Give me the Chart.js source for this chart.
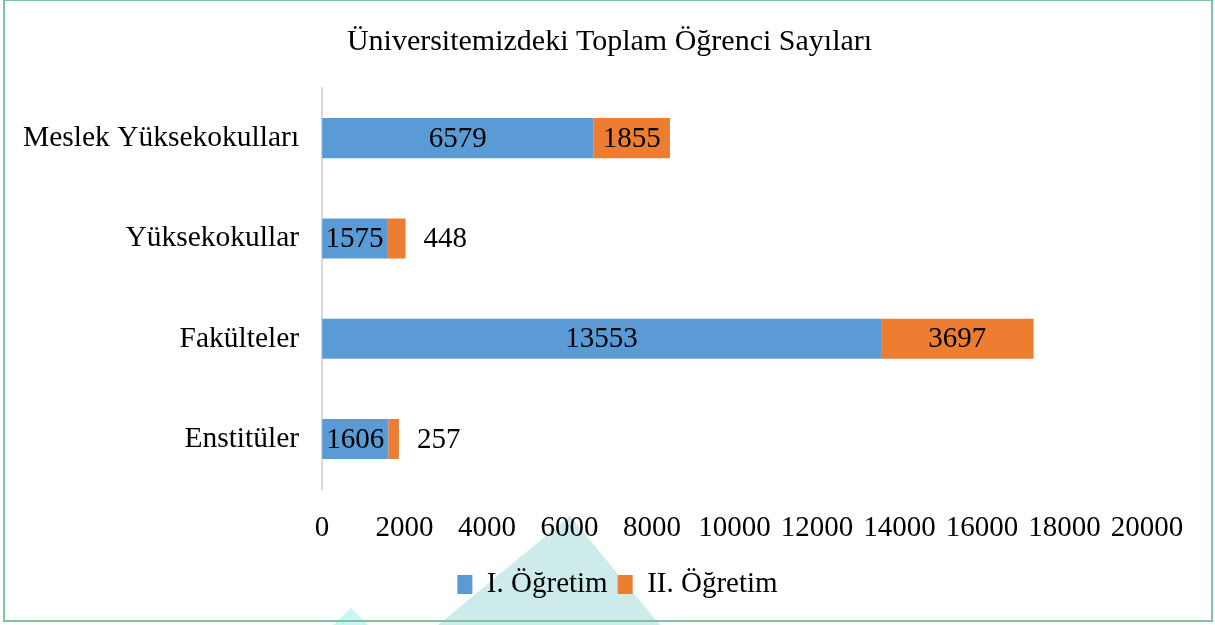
<!DOCTYPE html>
<html>
<head>
<meta charset="utf-8">
<script src="https://cdn.jsdelivr.net/npm/chart.js@4"></script>
<style>
  html, body { margin: 0; padding: 0; background: #fff; }
  #wrap { width: 1215px; height: 625px; }
</style>
</head>
<body>
<div id="wrap"><canvas id="ogrenci"></canvas></div>
<script>
const categories = ['Meslek Yüksekokulları', 'Yüksekokullar', 'Fakülteler', 'Enstitüler'];
const birinciOgretim = [6579, 1575, 13553, 1606];
const ikinciOgretim = [1855, 448, 3697, 257];
const seriesNames = ['I. Öğretim', 'II. Öğretim'];
const xMax = 20000;
const xStep = 2000;

const FONT = "'Liberation Serif', 'Times New Roman', serif";

// page frame and the pale watermark triangles behind the chart
const backdrop = {
  id: 'backdrop',
  afterLayout(chart) {
    // title and legend sit a little right of centre in the original
    chart.titleBlock.left += 36;
    chart.titleBlock.right += 36;
    chart.legend.left += 44;
    chart.legend.right += 44;
  },
  beforeDraw(chart) {
    const ctx = chart.ctx;
    ctx.save();
    ctx.fillStyle = '#cdebea';
    ctx.beginPath();
    ctx.moveTo(570, 516);
    ctx.lineTo(438, 625);
    ctx.lineTo(660, 625);
    ctx.closePath();
    ctx.fill();
    ctx.fillStyle = '#c9f5f4';
    ctx.beginPath();
    ctx.moveTo(351, 608);
    ctx.lineTo(333, 625);
    ctx.lineTo(368, 625);
    ctx.closePath();
    ctx.fill();
    ctx.strokeStyle = '#7cc3a0';
    ctx.lineWidth = 2;
    ctx.strokeRect(4, 0, 1208, 621);
    ctx.restore();
  }
};

// value labels: centred in the segment, or just right of the bar when it does not fit
const barLabels = {
  id: 'barLabels',
  afterDatasetsDraw(chart) {
    const ctx = chart.ctx;
    ctx.save();
    ctx.font = '29px ' + FONT;
    ctx.fillStyle = '#000';
    ctx.textBaseline = 'middle';
    chart.data.datasets.forEach((ds, di) => {
      chart.getDatasetMeta(di).data.forEach((bar, i) => {
        const txt = String(ds.data[i]);
        const w = ctx.measureText(txt).width;
        const segW = Math.abs(bar.x - bar.base);
        if (segW >= w + 4) {
          ctx.textAlign = 'center';
          ctx.fillText(txt, (bar.x + bar.base) / 2, bar.y + 1);
        } else {
          ctx.textAlign = 'left';
          ctx.fillText(txt, bar.x + 18, bar.y + 1);
        }
      });
    });
    ctx.restore();
  }
};

new Chart(document.getElementById('ogrenci'), {
  type: 'bar',
  data: {
    labels: categories,
    datasets: [{
      label: seriesNames[0],
      data: birinciOgretim,
      backgroundColor: '#5b9bd5',
      borderWidth: 0
    }, {
      label: seriesNames[1],
      data: ikinciOgretim,
      backgroundColor: '#ed7d31',
      borderWidth: 0
    }]
  },
  options: {
    indexAxis: 'y',
    responsive: true,
    maintainAspectRatio: false,
    animation: false,
    layout: { padding: { left: 0, right: 68, top: 12, bottom: 16 } },
    datasets: { bar: { categoryPercentage: 1, barPercentage: 0.4 } },
    scales: {
      x: {
        stacked: true,
        min: 0,
        max: xMax,
        grid: { display: false, drawTicks: false },
        border: { display: false },
        afterFit(scale) { scale.height -= 8; },
        ticks: {
          stepSize: xStep,
          padding: 22,
          color: '#000',
          font: { family: FONT, size: 29 },
          callback: v => String(v)
        }
      },
      y: {
        stacked: true,
        grid: { display: false, drawTicks: false },
        border: { display: true, color: '#d9d9d9', width: 2 },
        ticks: {
          padding: 23,
          color: '#000',
          font: { family: FONT, size: 29.5 }
        }
      }
    },
    plugins: {
      title: {
        display: true,
        text: 'Üniversitemizdeki Toplam Öğrenci Sayıları',
        color: '#000',
        font: { family: FONT, size: 30, weight: 'normal' },
        padding: { top: 12, bottom: 28 }
      },
      legend: {
        position: 'bottom',
        labels: {
          color: '#000',
          font: { family: FONT, size: 29 },
          boxWidth: 15,
          boxHeight: 19,
          padding: 10
        }
      },
      tooltip: { enabled: false }
    }
  },
  plugins: [backdrop, barLabels]
});
</script>
</body>
</html>
